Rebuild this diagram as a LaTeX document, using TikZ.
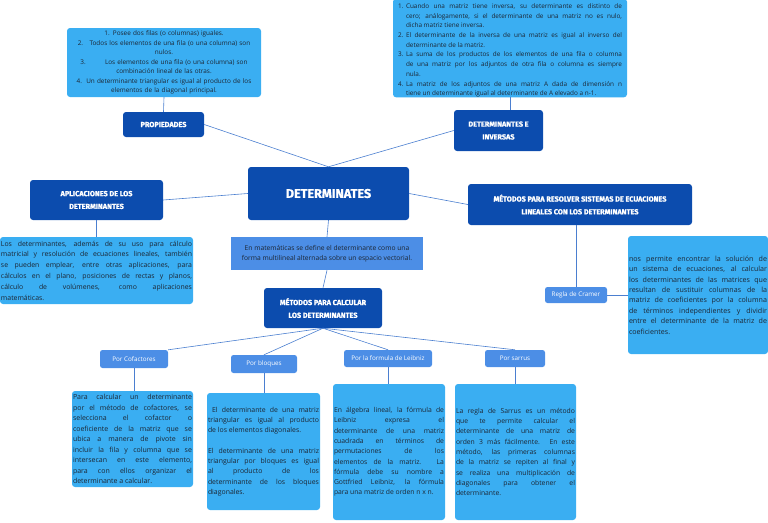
\documentclass[tikz,border=0pt]{standalone}
\usepackage{fontspec}
\setmainfont{Open Sans}
\newfontfamily\headfont{Fira Sans}[BoldFeatures={FakeBold=1.2}]
\definecolor{lightb}{HTML}{3AAEF2}
\definecolor{darkb}{HTML}{0C4CAE}
\definecolor{midb}{HTML}{4C8EE6}
\definecolor{linec}{HTML}{4B7FD0}
\definecolor{txt}{HTML}{1C2634}
\newcommand\myitem[2]{\par\noindent\hangindent=8pt\hangafter=1\makebox[8pt][l]{#1}#2\par}
\newcommand\fs[2]{\fontsize{#1}{#2}\selectfont\hyphenpenalty=10000 \tolerance=10000 }
\tikzset{
  txtbox/.style={fill=lightb, rounded corners=3pt, inner sep=0pt, text=txt},
  head/.style={fill=darkb, rounded corners=3pt, inner sep=0pt, text=white, align=center, font=\headfont\bfseries\fontsize{7.3}{12.8}\selectfont},
  meth/.style={fill=midb, rounded corners=2.5pt, inner sep=0pt, text=white, font=\fontsize{6.3}{8}\selectfont},
  conn/.style={draw=linec, line width=0.6pt},
}
\begin{document}
\begin{tikzpicture}[x=1pt,y=-1pt]
\useasboundingbox (0,0) rectangle (768,522);
% top text boxes
\node[txtbox, minimum width=194pt, minimum height=69pt, text width=192pt, align=center, font=\fs{6.4}{9.5}] (proptext) at (164,62.5)
 {1. Posee dos filas (o columnas) iguales.\\
  2.\quad Todos los elementos de una fila (o una columna) son\\ nulos.\\
  3.\qquad\quad Los elementos de una fila (o una columna) son\\ combinación lineal de las otras.\\
  4.\ \ Un determinante triangular es igual al producto de los\\ elementos de la diagonal principal.};
\node[txtbox, minimum width=234pt, minimum height=96pt, text width=224pt, align=justify, font=\fs{6.4}{9.7}] (invtext) at (510,48)
 {\myitem{1.}{Cuando una matriz tiene inversa, su determinante es distinto de\linebreak cero; análogamente, si el determinante de una matriz no es nulo,\linebreak dicha matriz tiene inversa.}
  \myitem{2.}{El determinante de la inversa de una matriz es igual al inverso del\linebreak determinante de la matriz.}
  \myitem{3.}{La suma de los productos de los elementos de una fila o columna\linebreak de una matriz por los adjuntos de otra fila o columna es siempre\linebreak nula.}
  \myitem{4.}{La matriz de los adjuntos de una matriz A dada de dimensión n\linebreak tiene un determinante igual al determinante de A elevado a n-1.}};
% headings
\node[head, minimum width=81pt, minimum height=25pt] (prop) at (163.5,124.5) {PROPIEDADES};
\node[head, minimum width=89pt, minimum height=41pt] (detinv) at (498.5,130.5) {DETERMINANTES E\\ INVERSAS};
\node[head, minimum width=161pt, minimum height=53pt, font=\headfont\bfseries\fontsize{12.6}{14}\selectfont] (det) at (328.5,193.5) {DETERMINATES};
\node[head, minimum width=133pt, minimum height=40pt] (aplic) at (96.5,200) {APLICACIONES DE LOS\\ DETERMINANTES};
\node[head, minimum width=224pt, minimum height=41pt] (metres) at (580,204.5) {MÉTODOS PARA RESOLVER SISTEMAS DE ECUACIONES\\ LINEALES CON LOS DETERMINANTES};
\node[head, minimum width=118pt, minimum height=40pt] (metcalc) at (323,308) {MÉTODOS PARA CALCULAR\\ LOS DETERMINANTES};
% definition
\node[fill=midb, inner sep=0pt, minimum width=192pt, minimum height=33pt, text=txt, align=center, font=\fs{6.7}{9.8}] (def) at (327,253.5)
 {En matemáticas se define el determinante como una\\ forma multilineal alternada sobre un espacio vectorial.};
% applications text
\node[txtbox, minimum width=193pt, minimum height=67pt, text width=191pt, align=justify, font=\fs{6.9}{10.8}] (aplictext) at (96.5,270.5)
 {Los determinantes, además de su uso para cálculo\linebreak matricial y resolución de ecuaciones lineales, también\linebreak se pueden emplear, entre otras aplicaciones, para\linebreak cálculos en el plano, posiciones de rectas y planos,\linebreak cálculo de volúmenes, como aplicaciones\linebreak matemáticas.};
% Cramer
\node[meth, minimum width=62pt, minimum height=16pt] (cramer) at (576,295) {Regla de Cramer};
\node[txtbox, minimum width=140pt, minimum height=118pt, text width=138pt, align=justify, font=\fs{7.1}{10.4}] (cramertext) at (698,295)
 {nos permite encontrar la solución de\linebreak un sistema de ecuaciones, al calcular\linebreak los determinantes de las matrices que\linebreak resultan de sustituir columnas de la\linebreak matriz de coeficientes por la columna\linebreak de términos independientes y dividir\linebreak entre el determinante de la matriz de\linebreak coeficientes.};
% methods
\node[meth, minimum width=68pt, minimum height=18pt] (cof) at (134,359) {Por Cofactores};
\node[meth, minimum width=66pt, minimum height=18pt] (bloq) at (264,364) {Por bloques};
\node[meth, minimum width=88pt, minimum height=17pt] (leib) at (388,358.5) {Por la formula de Leibniz};
\node[meth, minimum width=60pt, minimum height=17pt] (sarr) at (515,358.5) {Por sarrus};
\node[txtbox, minimum width=121pt, minimum height=96pt, text width=119pt, align=justify, font=\fs{7}{10.5}] (coftext) at (132.5,439)
 {Para calcular un determinante\linebreak por el método de cofactores, se\linebreak selecciona el cofactor o\linebreak coeficiente de la matriz que se\linebreak ubica a manera de pivote sin\linebreak incluir la fila y columna que se\linebreak intersecan en este elemento,\linebreak para con ellos organizar el\linebreak determinante a calcular.};
\node[txtbox, minimum width=113pt, minimum height=117pt, text width=111pt, align=justify, font=\fs{6.9}{10.3}] (bloqtext) at (263.5,451.5)
 {\ El determinante de una matriz\linebreak triangular es igual al producto\linebreak de los elementos diagonales.\par\vspace{10.3pt}
  El determinante de una matriz\linebreak triangular por bloques es igual\linebreak al producto de los\linebreak determinante de los bloques\linebreak diagonales.};
\node[txtbox, minimum width=112pt, minimum height=136pt, text width=110pt, align=justify, font=\fs{6.8}{10.3}] (leibtext) at (389,452)
 {En álgebra lineal, la fórmula de\linebreak Leibniz expresa el\linebreak determinante de una matriz\linebreak cuadrada en términos de\linebreak permutaciones de los\linebreak elementos de la matriz. La\linebreak fórmula debe su nombre a\linebreak Gottfried Leibniz, la fórmula\linebreak para una matriz de orden n x n.};
\node[txtbox, minimum width=121pt, minimum height=136pt, text width=119pt, align=justify, font=\fs{6.8}{10.3}] (sarrtext) at (515.5,452)
 {La regla de Sarrus es un método\linebreak que te permite calcular el\linebreak determinante de una matriz de\linebreak orden 3 más fácilmente. En este\linebreak método, las primeras columnas\linebreak de la matriz se repiten al final y\linebreak se realiza una multiplicación de\linebreak diagonales para obtener el\linebreak determinante.};
% connectors
\draw[conn] (proptext.south) -- (prop.north);
\draw[conn] (invtext.south) -- (invtext.south |- detinv.north);
\draw[conn] (prop.east) -- (det.north);
\draw[conn] (detinv.west) -- (det.north);
\draw[conn] (aplic.east) -- (det.west);
\draw[conn] (det.east) -- (metres.west);
\draw[conn] (aplic.south) -- (aplictext.north);
\draw[conn] (det.south) -- (def.north);
\draw[conn] (def.south) -- (metcalc.north);
\draw[conn] (cramer.north |- metres.south) -- (cramer.north);
\draw[conn] (cramer.east) -- (cramertext.west);
\draw[conn] (metcalc.south) -- (cof.north east);
\draw[conn] (metcalc.south) -- (bloq.north);
\draw[conn] (metcalc.south) -- (leib.north);
\draw[conn] (metcalc.south) -- (sarr.north);
\draw[conn] (cof.south) -- (cof.south |- coftext.north);
\draw[conn] (bloq.south) -- (bloq.south |- bloqtext.north);
\draw[conn] (leib.south) -- (leib.south |- leibtext.north);
\draw[conn] (sarr.south) -- (sarr.south |- sarrtext.north);
\end{tikzpicture}
\end{document}
